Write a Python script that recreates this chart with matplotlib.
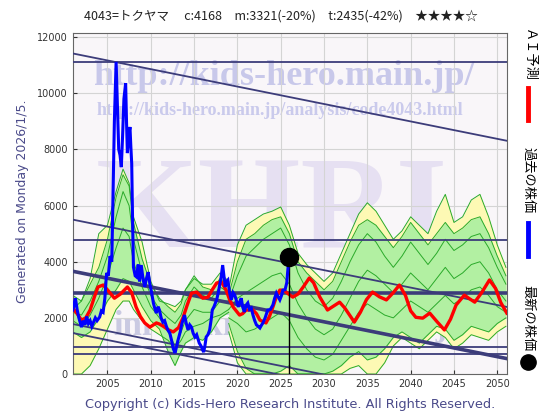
import numpy as np
import matplotlib.pyplot as plt
from matplotlib.lines import Line2D

plt.rcParams['font.family'] = ['DejaVu Sans']
JP = ['Noto Sans CJK JP', 'DejaVu Sans']

title = '4043=トクヤマ　 c:4168　m:3321(-20%)　t:2435(-42%)　★★★★☆'
gen_label = 'Generated on Monday 2026/1/5.'
copyright = 'Copyright (c) Kids-Hero Research Institute. All Rights Reserved.'
legend_labels = ['ＡＩ予測', '過去の株価', '最新の株価']

# past price (blue)
price_years = [2001.0, 2001.15, 2001.3, 2001.5, 2001.7, 2002.0, 2002.2, 2002.4, 2002.6, 2002.8,
               2003.0, 2003.2, 2003.4, 2003.6, 2003.8, 2004.1, 2004.3, 2004.5, 2004.7, 2004.9,
               2005.1, 2005.3, 2005.5, 2005.65, 2005.8, 2006.0, 2006.15, 2006.3, 2006.45, 2006.6,
               2006.75, 2006.9, 2007.1, 2007.2, 2007.3, 2007.45, 2007.6, 2007.7, 2007.8, 2007.9,
               2008.0, 2008.2, 2008.35, 2008.55, 2008.7, 2008.9, 2009.1, 2009.3, 2009.5, 2009.7,
               2009.9, 2010.1, 2010.3, 2010.5, 2010.65, 2010.85, 2011.0, 2011.2, 2011.4, 2011.6,
               2011.8, 2012.0, 2012.2, 2012.4, 2012.6, 2012.8, 2013.0, 2013.15, 2013.4, 2013.6,
               2013.9, 2014.1, 2014.3, 2014.5, 2014.7, 2014.9, 2015.1, 2015.3, 2015.6, 2015.8,
               2016.1, 2016.25, 2016.4, 2016.6, 2016.8, 2017.0, 2017.1, 2017.3, 2017.6, 2017.8,
               2017.95, 2018.1, 2018.3, 2018.45, 2018.6, 2018.75, 2018.9, 2019.1, 2019.3, 2019.5,
               2019.7, 2019.9, 2020.1, 2020.3, 2020.45, 2020.6, 2020.8, 2021.0, 2021.2, 2021.4,
               2021.6, 2021.8, 2022.0, 2022.2, 2022.4, 2022.6, 2022.8, 2022.95, 2023.2, 2023.5,
               2023.8, 2024.1, 2024.3, 2024.5, 2024.7, 2024.9, 2025.1, 2025.25, 2025.5, 2025.7,
               2025.85]
price_vals = [2280, 2500, 2700, 2300, 2000, 1670, 1900, 1750, 2050, 1800,
              1900, 1700, 1850, 2000, 1900, 2030, 2250, 2200, 2700, 3600,
              3500, 4200, 4000, 6500, 9000, 11120, 9500, 8000, 7800, 7370,
              8500, 9800, 10360, 9000, 7870, 8500, 8800, 8100, 7500, 5500,
              3810, 3500, 3460, 3900, 3300, 3880, 3400, 3100, 3400, 3630,
              3200, 2900, 2530, 2300, 2170, 2400, 2280, 2000, 1850, 1900,
              1700, 1550, 1460, 1200, 900, 750, 1000, 1210, 1500, 1800,
              2100, 1800, 1570, 1750, 1670, 1450, 1320, 1400, 1100, 1000,
              780, 1000, 1320, 1400, 1570, 2000, 2280, 2400, 2640, 2900,
              3170, 3400, 3880, 3500, 3100, 3300, 3350, 2900, 2640, 2900,
              2810, 2600, 2390, 2600, 2700, 2400, 2210, 2450, 2530, 2300,
              2350, 2100, 1900, 1750, 1700, 1640, 1750, 1820, 2000, 2280,
              2300, 2460, 2700, 2880, 2750, 2640, 2800, 2990, 3000, 3250,
              3800]

latest_year = 2026.0
latest_price = 4168

# AI forecast (red)
ai_years = [2001.0, 2001.5, 2002.0, 2002.5, 2003.0, 2003.5, 2003.9, 2004.5, 2005.0, 2005.8,
            2006.5, 2007.3, 2007.8, 2008.3, 2008.8, 2009.3, 2009.9, 2010.65, 2011.0, 2011.4,
            2012.0, 2012.6, 2013.2, 2013.7, 2014.2, 2014.7, 2015.3, 2016.0, 2016.6, 2017.1,
            2017.6, 2018.15, 2018.7, 2019.1, 2019.5, 2020.25, 2020.6, 2021.0, 2021.8, 2022.2,
            2022.6, 2023.3, 2023.7, 2024.1, 2024.5, 2024.9, 2025.4, 2025.9, 2026.4, 2027.0,
            2027.6, 2028.3, 2028.8, 2029.5, 2030.4, 2031.0, 2031.8, 2032.4, 2033.5, 2034.2,
            2034.9, 2035.6, 2036.4, 2037.2, 2038.0, 2038.7, 2039.4, 2040.0, 2040.6, 2041.4,
            2042.2, 2043.0, 2043.9, 2044.6, 2045.25, 2046.2, 2046.8, 2047.4, 2048.2, 2049.1,
            2049.8, 2050.4, 2051.1]
ai_vals = [2350, 2150, 1920, 2000, 2280, 2750, 3100, 3170, 3000, 2700,
           2850, 3100, 2900, 2390, 2050, 1820, 1670, 1820, 1780, 1710,
           1580, 1500, 1650, 1990, 2450, 2880, 2920, 2700, 2740, 3000,
           3240, 3280, 2990, 2650, 2390, 2100, 2150, 2280, 2280, 2150,
           1920, 1820, 2050, 2390, 2750, 2990, 2980, 2850, 2740, 2850,
           3100, 3420, 3250, 2750, 2280, 2400, 2560, 2350, 1850, 2200,
           2650, 2920, 2750, 2640, 2900, 3170, 2800, 2250, 2020, 1990,
           2170, 1880, 1570, 1950, 2460, 2810, 2680, 2560, 2900, 3350,
           3050, 2550, 2170]

# past projection bands
past_years = [2001, 2002, 2003, 2004, 2005, 2006, 2006.8, 2007.5, 2008, 2009, 2010, 2011,
              2012, 2012.8, 2013.5, 2014, 2015, 2016, 2017, 2018, 2019]
past_yel_hi = [2300, 2600, 3400, 5000, 5300, 6500, 7300, 6800, 5600, 4700, 3300, 2600,
               2500, 2400, 2600, 3000, 3400, 3200, 3200, 3600, 3300]
past_yel_lo = [0, 0, 300, 900, 1600, 2300, 2600, 2600, 2300, 1900, 1600, 1400,
               1200, 900, 1200, 1500, 1700, 1800, 2000, 2100, 2300]
past_grn_hi = [2800, 2600, 3200, 3800, 4800, 6300, 7100, 6700, 5400, 4100, 3200, 2700,
               2400, 2200, 2500, 3000, 3500, 3100, 3000, 3400, 3200]
past_grn_lo = [1500, 1300, 1500, 2000, 2600, 3000, 3400, 3300, 3000, 2400, 1900, 1600,
               800, 300, 800, 1100, 1300, 1200, 1500, 2000, 2200]
past_l1 = [2200, 2100, 2600, 3300, 4200, 5600, 6500, 6000, 4800, 3600, 2800, 2300,
           2000, 1800, 2100, 2600, 3100, 2800, 2700, 3100, 2900]
past_l2 = [1900, 1700, 2100, 2700, 3500, 4500, 5200, 4900, 4000, 3100, 2400, 2000,
           1500, 1000, 1500, 1900, 2300, 2200, 2200, 2600, 2600]

# future projection bands
fut_years = list(range(2019, 2052))
fut_yel_hi = [3000, 4600, 5300, 5500, 5700, 5800, 5950, 5300, 4300, 3900, 3600, 3300, 3600,
              4300, 5000, 5700, 6100, 5800, 5300, 4800, 5100, 5600, 5300, 5000, 5800, 6400,
              5400, 5600, 6200, 6400, 5600, 4600, 3800]
fut_yel_lo = [1500, 400, 0, 0, 0, 0, 0, 0, 0, 0, 0, 0, 0,
              0, 200, 300, 0, 0, 400, 1000, 1300, 1100, 900, 1200, 1500, 1300,
              900, 1100, 1400, 1300, 1200, 1500, 1700]
fut_grn_hi = [2800, 4000, 4800, 5000, 5300, 5500, 5600, 5000, 4000, 3600, 3300, 3000, 3300,
              4000, 4700, 5300, 5500, 5300, 4900, 4500, 4900, 5400, 5000, 4600, 5000, 5400,
              5000, 5200, 5500, 5600, 5000, 4200, 3500]
fut_grn_lo = [1800, 800, 200, 0, 0, 0, 100, 300, 0, 0, 0, 0, 100,
              300, 600, 800, 500, 600, 900, 1300, 1500, 1300, 1100, 1400, 1700, 1600,
              1200, 1400, 1700, 1600, 1500, 1800, 2000]
fut_l1 = [2600, 3500, 4200, 4500, 4800, 5000, 5200, 4600, 3600, 3000, 2600, 2400, 2700,
          3300, 4000, 4600, 5000, 4700, 4200, 3800, 4200, 4700, 4300, 3900, 4300, 4800,
          4400, 4600, 4900, 5000, 4500, 3800, 3200]
fut_l2 = [2300, 2700, 2900, 3100, 3300, 3500, 3600, 3200, 2500, 2000, 1600, 1400, 1600,
          2100, 2700, 3300, 3700, 3500, 3200, 2900, 3200, 3600, 3300, 3000, 3400, 3800,
          3400, 3600, 3900, 4000, 3600, 3000, 2600]
fut_l3 = [2000, 1800, 1500, 1600, 1800, 2000, 2200, 1900, 1300, 900, 600, 500, 700,
          1200, 1700, 2200, 2500, 2300, 2100, 2000, 2300, 2600, 2400, 2200, 2500, 2800,
          2500, 2700, 3000, 3100, 2800, 2400, 2200]

# support / resistance lines
h_levels = [11100, 4780, 2900, 960, 710]
h_thick = [False, False, True, False, False]
diag_start = [11420, 5500, 3660, 1780, 1460]
diag_end = [8310, 2390, 550, -1330, -1650]
diag_thick = [False, False, True, False, False]

x0, x1 = 2001.0, 2051.1

fig = plt.figure(figsize=(5.6, 4.2), dpi=100)
ax = fig.add_axes([0.130, 0.1095, 0.775, 0.812])
ax.set_facecolor('#f9f6f9')
ax.set_xlim(x0, x1)
ax.set_ylim(0, 12150)
ax.set_xticks(range(2005, 2051, 5))
ax.set_yticks(range(0, 12001, 2000))
ax.grid(color='#d4d4d4', lw=0.8, zorder=0)
ax.set_axisbelow(True)
ax.tick_params(labelsize=7, colors='#333333', direction='in', length=3)
for s in ax.spines.values():
    s.set_color('#666666')
    s.set_linewidth(0.8)

# watermarks
wm = dict(transform=ax.transAxes, ha='center', family='Liberation Serif',
          fontweight='bold', zorder=0.5)
ax.text(0.486, 0.871, 'http://kids-hero.main.jp/', fontsize=26, va='center',
        color='#c8c8ea', **wm)
ax.text(0.477, 0.774, 'http://kids-hero.main.jp/analysis/code4043.html', fontsize=13,
        va='center', color='#cacaec', **wm)
ax.text(0.459, 0.37, 'KHRI', fontsize=95, va='baseline', color='#e6e0f2', **wm)
ax.text(0.50, 0.138, 'info@kids-hero.main.jp', fontsize=25, va='center',
        color='#cacae2', **wm)

# projection bands
for yrs, ylo, yhi, glo, ghi, extra in [
        (past_years, past_yel_lo, past_yel_hi, past_grn_lo, past_grn_hi, [past_l1, past_l2]),
        (fut_years, fut_yel_lo, fut_yel_hi, fut_grn_lo, fut_grn_hi, [fut_l1, fut_l2, fut_l3])]:
    ax.fill_between(yrs, ylo, yhi, color='#fdf9b4', lw=0, zorder=1)
    ax.fill_between(yrs, glo, ghi, color='#b2f0a2', lw=0, zorder=1.1)
    for arr in [ylo, yhi, glo, ghi] + extra:
        ax.plot(yrs, arr, color='#2aaa2a', lw=0.7, zorder=1.2)

# trend lines
for v, thick in zip(h_levels, h_thick):
    ax.axhline(v, color='#3c3c7a', lw=2.6 if thick else 1.3, zorder=3)
for a, b, thick in zip(diag_start, diag_end, diag_thick):
    ax.plot([x0, x1], [a, b], color='#3c3c7a', lw=2.6 if thick else 1.3, zorder=3)

ax.plot(ai_years, ai_vals, color='#ff0000', lw=2.4, zorder=4, solid_joinstyle='round')
ax.plot([latest_year, latest_year], [0, latest_price], color='black', lw=1, zorder=4.5)
ax.plot(price_years, price_vals, color='#0000ff', lw=2.2, zorder=5, solid_joinstyle='miter')
ax.plot(latest_year, latest_price, 'o', ms=13, color='black', zorder=6, clip_on=False)

fig.text(0.502, 0.962, title, fontsize=9, family=JP, ha='center', va='center', color='#222222')
fig.text(0.040, 0.52, gen_label, rotation=90, fontsize=9, color='#4a4a8a', ha='center', va='center')
fig.text(0.518, 0.038, copyright, fontsize=9.3, color='#4a4a8a', ha='center', va='center')

# right-hand legend
lx = 0.943
fig.text(lx, 0.869, legend_labels[0], rotation=-90, fontsize=9.5, family=JP, ha='center', va='center')
fig.add_artist(Line2D([lx, lx], [0.714, 0.790], color='#ff0000', lw=3.5, transform=fig.transFigure))
fig.text(lx, 0.571, legend_labels[1], rotation=-90, fontsize=9.5, family=JP, ha='center', va='center')
fig.add_artist(Line2D([lx, lx], [0.390, 0.468], color='#0000ff', lw=3.5, transform=fig.transFigure))
fig.text(lx, 0.243, legend_labels[2], rotation=-90, fontsize=9.5, family=JP, ha='center', va='center')
fig.add_artist(Line2D([lx], [0.138], marker='o', ms=11, color='black', transform=fig.transFigure))

fig.savefig('out.png', dpi=100)
